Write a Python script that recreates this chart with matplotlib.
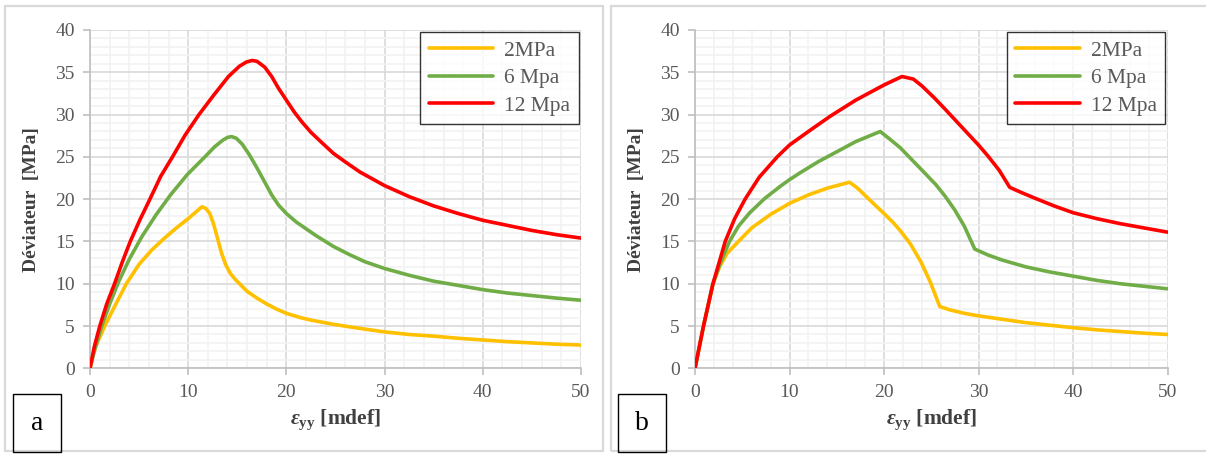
import numpy as np
import matplotlib
matplotlib.use("Agg")
import matplotlib.pyplot as plt
from matplotlib.patches import Rectangle
from matplotlib.ticker import MultipleLocator

plt.rcParams['font.family'] = ['Liberation Serif', 'DejaVu Serif']
plt.rcParams['mathtext.fontset'] = 'custom'
plt.rcParams['mathtext.rm'] = 'Liberation Serif'
plt.rcParams['mathtext.it'] = 'Liberation Serif:italic'
plt.rcParams['mathtext.bf'] = 'Liberation Serif:bold'
plt.rcParams['mathtext.bfit'] = 'Liberation Serif:bold:italic'

labels = ["2MPa", "6 Mpa", "12 Mpa"]
colors = ["#FFC000", "#70AD47", "#FF0000"]

# panel a
a_x_2 = [0, 0.3, 0.7, 1.5, 2.5, 3.7, 5, 6.3, 7.5, 8.7, 10, 10.8, 11.4, 11.8, 12.2, 12.6, 13.0,
         13.4, 13.8, 14.3, 14.8, 16, 17, 18, 19, 20, 21.4, 22.5, 24.8, 27, 30, 32.5, 35, 37.5,
         40, 42.5, 45, 47.5, 50]
a_y_2 = [0, 1.6, 2.9, 5.0, 7.3, 10.0, 12.3, 14.0, 15.3, 16.5, 17.7, 18.5, 19.1, 18.9, 18.3, 17.0,
         15.3, 13.6, 12.3, 11.2, 10.5, 9.1, 8.3, 7.6, 7.0, 6.5, 6.0, 5.7, 5.2, 4.8, 4.3, 4.0, 3.8,
         3.55, 3.35, 3.15, 3.0, 2.85, 2.75]
a_x_6 = [0, 0.5, 1.2, 2, 2.9, 4, 5.3, 6.7, 8.2, 9.9, 11.7, 12.7, 13.5, 14.0, 14.4, 14.9, 15.5,
         16.2, 17, 17.8, 18.5, 19.2, 20, 21, 22, 23, 24.8, 26.5, 28, 30, 32.5, 35, 37.5, 40,
         42.5, 45, 47.5, 50]
a_y_6 = [0, 2.3, 5.0, 7.6, 10.2, 12.9, 15.6, 18.1, 20.5, 22.9, 25.0, 26.2, 26.95, 27.3, 27.4,
         27.2, 26.5, 25.3, 23.7, 22.0, 20.5, 19.3, 18.3, 17.3, 16.5, 15.7, 14.4, 13.4, 12.6, 11.8,
         11.0, 10.3, 9.8, 9.3, 8.9, 8.6, 8.3, 8.05]
a_x_12 = [0, 0.45, 1.0, 1.7, 2.5, 3.3, 4.1, 5.1, 6.1, 7.2, 8.4, 9.7, 11.1, 12.6, 14.1, 15.2,
          15.9, 16.5, 17, 17.8, 18.5, 19.2, 20, 20.8, 21.6, 22.5, 23.5, 24.8, 26, 27.5, 30, 32.5,
          35, 37.5, 40, 42.5, 45, 47.5, 50]
a_y_12 = [0, 2.6, 5.0, 7.6, 10.0, 12.6, 15.0, 17.6, 20.0, 22.7, 25.0, 27.6, 30.0, 32.3, 34.5,
          35.7, 36.2, 36.4, 36.3, 35.6, 34.5, 33.1, 31.7, 30.3, 29.1, 27.9, 26.8, 25.4,
          24.4, 23.2, 21.6, 20.3, 19.2, 18.3, 17.5, 16.9, 16.3, 15.8, 15.4]

# panel b
b_x_2 = [0, 0.9, 1.9, 2.6, 3.4, 4.6, 6, 8, 10, 12, 14, 16.35, 17.2, 18.5, 20, 21, 21.7, 22.8,
         23.9, 24.9, 25.9, 27, 28.5, 30, 32.5, 35, 37.5, 40, 42.5, 45, 47.5, 50]
b_y_2 = [0, 5.0, 10.0, 12.0, 13.6, 15.0, 16.6, 18.2, 19.5, 20.5, 21.3, 22.0, 21.3, 19.9, 18.3,
         17.2, 16.3, 14.7, 12.6, 10.2, 7.3, 6.9, 6.5, 6.2, 5.8, 5.4, 5.1, 4.8, 4.55, 4.35, 4.15,
         4.0]
b_x_6 = [0, 0.9, 1.9, 2.7, 3.65, 4.6, 5.8, 7.4, 9, 10, 11.1, 13, 15, 17, 19.6, 20.5, 21.7, 23,
         24.3, 25.5, 26.5, 27.5, 28.5, 29.6, 31, 32.5, 35, 37.5, 40, 42.5, 45, 47.5, 50]
b_y_6 = [0, 5.0, 10.0, 12.5, 15.0, 16.8, 18.4, 20.1, 21.5, 22.3, 23.1, 24.4, 25.6, 26.8, 28.0,
         27.2, 26.1, 24.6, 23.1, 21.7, 20.3, 18.7, 16.8, 14.1, 13.4, 12.8, 12.0, 11.4, 10.9,
         10.4, 10.0, 9.7, 9.4]
b_x_12 = [0, 0.9, 1.9, 3.2, 4.2, 5.3, 6.8, 8.7, 10, 12, 14.3, 17, 20, 21.9, 23.1, 24, 25.3, 26.5,
          28, 29, 30, 31, 32.2, 33.3, 34.5, 36, 38, 40, 42.5, 45, 47.5, 50]
b_y_12 = [0, 5.0, 10.0, 15.0, 17.7, 20.0, 22.6, 25.0, 26.4, 28.0, 29.8, 31.7, 33.5, 34.5, 34.2,
          33.4, 32.0, 30.6, 28.8, 27.6, 26.4, 25.1, 23.4, 21.4, 20.8, 20.1, 19.2, 18.4, 17.7,
          17.1, 16.6, 16.1]

panels = [
    ("a", [(a_x_2, a_y_2), (a_x_6, a_y_6), (a_x_12, a_y_12)]),
    ("b", [(b_x_2, b_y_2), (b_x_6, b_y_6), (b_x_12, b_y_12)]),
]

fig = plt.figure(figsize=(12.06, 4.57), dpi=100)
W, H = 1206, 457

# panel frames
for x0, x1 in [(5, 603), (611, 1210)]:
    fig.patches.append(Rectangle((x0 / W, 6 / H), (x1 - x0) / W, (451 - 6) / H,
                                 transform=fig.transFigure, fill=False,
                                 edgecolor="#D9D9D9", linewidth=1.6))

ax_pos = [(90, 581), (695, 1167.5)]
tick_col = "#595959"

for (name, series), (px0, px1) in zip(panels, ax_pos):
    ax = fig.add_axes([px0 / W, 1 - 368.3 / H, (px1 - px0) / W, (368.3 - 30) / H])
    for (x, y), c, lab in zip(series, colors, labels):
        ax.plot(x, y, color=c, lw=2.6, label=lab, solid_capstyle="round",
                solid_joinstyle="round", zorder=3)
    ax.set_xlim(0, 50)
    ax.set_ylim(0, 40)
    ax.xaxis.set_major_locator(MultipleLocator(10))
    ax.xaxis.set_minor_locator(MultipleLocator(2))
    ax.yaxis.set_major_locator(MultipleLocator(5))
    ax.yaxis.set_minor_locator(MultipleLocator(1))
    ax.grid(which="major", color="#D9D9D9", lw=1.2, zorder=0)
    ax.grid(which="minor", color="#F2F2F2", lw=1.2, zorder=0)
    ax.set_axisbelow(True)
    for s in ["top", "right"]:
        ax.spines[s].set_visible(False)
    for s in ["left", "bottom"]:
        ax.spines[s].set_color("#BFBFBF")
        ax.spines[s].set_linewidth(1.2)
    ax.tick_params(which="major", direction="out", length=5, width=1.2, color="#BFBFBF",
                   labelsize=14, labelcolor=tick_col, pad=6)
    ax.tick_params(which="minor", length=0)
    ax.set_ylabel("Déviateur  [MPa]", fontsize=14, fontweight="bold", color="#404040",
                  labelpad=11)
    ax.set_xlabel(r"$\mathbfit{\varepsilon}_{\mathbf{yy}}$ [mdef]", fontsize=15.5,
                  fontweight="bold", color="#404040", labelpad=5)
    leg = ax.legend(loc="upper right", fontsize=15.5, frameon=True, fancybox=False,
                    edgecolor="black", borderaxespad=0.1, handlelength=3.0,
                    handletextpad=0.5, labelspacing=0.34, borderpad=0.4)
    leg.get_frame().set_linewidth(1.0)
    for t in leg.get_texts():
        t.set_color(tick_col)
    # panel letter box
    bx0 = px0 - 77
    fig.patches.append(Rectangle((bx0 / W, 1 - 451.5 / H), 48 / W, 58 / H,
                                 transform=fig.transFigure, fill=False,
                                 edgecolor="black", linewidth=1.0))
    fig.text((bx0 + 24) / W, 1 - 423 / H, name, fontsize=20, ha="center", va="center")

fig.savefig("out.png", dpi=100)
